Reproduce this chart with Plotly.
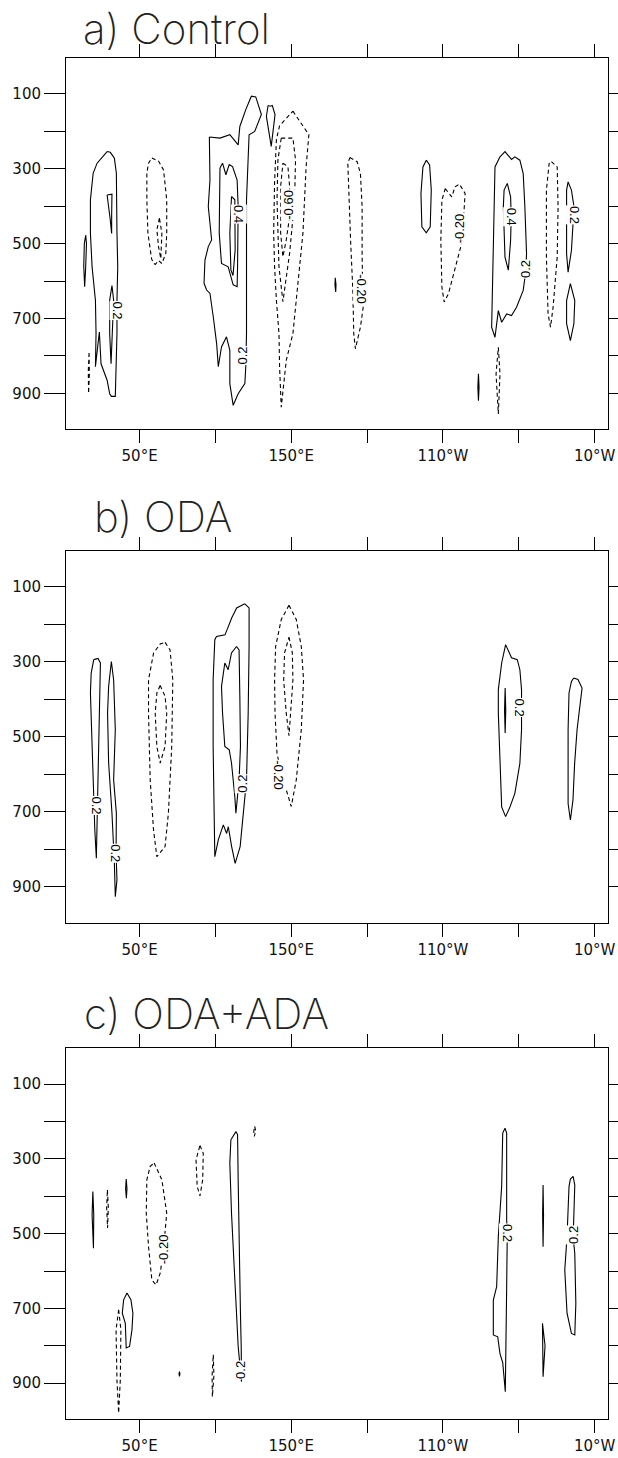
import plotly.graph_objects as go

# ---------------- axis ticks / titles ----------------
LON_TICKS = [50, 100, 150, 200, 250, 300, 350]
LON_LABELS = ["50°E", "", "150°E", "", "110°W", "", "10°W"]
P_TICKS = [100, 200, 300, 400, 500, 600, 700, 800, 900]
P_LABELS = ["100", "", "300", "", "500", "", "700", "", "900"]
PANEL_TITLES = ["a) Control", "b) ODA", "c) ODA+ADA"]

# ---------------- a) Control : contour loops (lon, hPa) ----------------
a_pos_1 = [(14.5, 477), (13.6, 500), (13.2, 560), (13.3, 610), (13.8, 615), (14.4, 570), (15.0, 500)]
a_pos_2 = [(28.6, 254), (22.0, 285), (19.4, 312), (17.6, 383), (17.6, 472), (18.7, 562), (20.9, 651),
           (21.3, 740), (20.9, 829), (23.5, 736), (24.6, 821), (26.8, 848), (28.6, 865), (30.3, 901),
           (31.4, 908), (34.0, 908), (34.7, 829), (35.1, 740), (35.1, 651), (35.6, 562), (35.1, 472),
           (35.1, 383), (34.7, 312), (33.4, 272), (30.7, 256)]
a_pos_3 = [(31.8, 612), (30.3, 651), (30.3, 740), (31.2, 821), (32.0, 740), (32.9, 651)]
a_pos_4 = [(28.6, 370), (31.8, 368), (31.6, 420), (31.6, 473), (30.5, 430)]
a_pos_5 = [(96.0, 215), (103.0, 218), (109.5, 209), (115.0, 236), (116.1, 187), (120.0, 142),
           (123.7, 106), (126.6, 108), (130.3, 155), (125.9, 200), (122.2, 209), (121.6, 294),
           (120.5, 383), (120.5, 472), (120.5, 562), (120.9, 651), (120.5, 740), (120.0, 829),
           (119.4, 874), (115.0, 901), (111.7, 932), (109.5, 874), (109.5, 785), (107.3, 749),
           (104.0, 776), (101.9, 829), (100.8, 767), (98.6, 696), (96.4, 633), (94.2, 624),
           (92.5, 606), (93.1, 544), (95.3, 508), (97.5, 490), (95.3, 401), (96.4, 330)]
a_pos_6 = [(103.0, 298), (104.7, 285), (106.9, 316), (109.1, 289), (111.3, 294), (114.3, 330),
           (115.0, 401), (115.0, 472), (114.6, 562), (114.3, 615), (111.7, 610), (108.4, 562),
           (104.0, 553), (102.5, 472), (103.0, 383)]
a_pos_7 = [(110.6, 374), (109.5, 472), (110.2, 570), (111.6, 585), (113.0, 517), (112.8, 383)]
a_pos_8 = [(134.7, 131), (136.2, 133), (137.5, 131), (139.3, 155), (136.8, 240), (133.6, 160)]
a_pos_9 = [(179.0, 591), (179.5, 610), (179.3, 629), (178.8, 610)]
a_pos_10 = [(239.0, 277), (241.2, 290), (242.3, 357), (241.6, 455), (239.0, 471), (236.1, 455),
            (235.5, 366), (236.8, 295)]
a_pos_11 = [(287.6, 268), (290.9, 254), (295.2, 275), (297.4, 268), (300.7, 277), (302.9, 313),
            (304.0, 402), (305.1, 527), (304.5, 577), (302.9, 625), (298.5, 670), (295.2, 692),
            (292.0, 688), (288.7, 710), (286.5, 679), (284.3, 750), (282.1, 723), (282.8, 580),
            (283.7, 402), (284.3, 295)]
a_pos_12 = [(292.4, 339), (294.6, 375), (295.0, 430), (294.6, 491), (293.1, 571), (290.9, 536),
            (289.8, 402), (290.3, 357)]
a_pos_13 = [(332.5, 335), (334.7, 357), (336.4, 402), (335.8, 450), (334.7, 518), (332.5, 576),
            (331.5, 527), (331.5, 357)]
a_pos_14 = [(334.0, 607), (336.9, 652), (336.3, 714), (334.0, 759), (331.5, 714), (331.5, 652)]
a_pos_15 = [(273.4, 848), (273.8, 884), (273.4, 920), (273.0, 884)]

a_neg_1 = [(16.7, 792), (16.2, 840), (16.4, 900), (16.9, 850)]
a_neg_2 = [(58.1, 271), (62.6, 280), (65.8, 303), (67.9, 383), (67.9, 472), (67.3, 526), (64.7, 553),
           (62.5, 545), (60.5, 555), (59.2, 553), (57.9, 540), (55.5, 472), (54.8, 383), (54.8, 312),
           (55.9, 285)]
a_neg_3 = [(63.1, 432), (61.4, 463), (62.5, 508), (64.0, 540), (64.7, 473)]
a_neg_4 = [(151.1, 146), (161.6, 209), (159.8, 294), (157.7, 472), (154.4, 606), (151.1, 740),
           (146.7, 812), (143.4, 937), (142.3, 829), (141.9, 740), (140.2, 651), (139.0, 562),
           (138.4, 472), (139.0, 338), (140.2, 222), (142.3, 185)]
a_neg_5 = [(143.4, 218), (151.1, 218), (152.8, 276), (152.2, 383), (148.9, 526), (144.5, 655),
           (141.9, 562), (140.6, 383), (141.2, 276)]
a_neg_6 = [(144.5, 285), (147.8, 294), (148.9, 347), (148.9, 428), (146.7, 490), (144.5, 535),
           (143.0, 472), (143.0, 347)]
a_neg_7 = [(188.6, 270), (193.4, 281), (195.6, 313), (196.7, 402), (196.7, 536), (197.4, 670),
           (195.6, 723), (192.3, 781), (191.2, 741), (190.6, 625), (189.1, 491), (187.9, 357),
           (187.3, 286)]
a_neg_8 = [(251.5, 353), (255.8, 375), (258.0, 348), (260.9, 341), (264.6, 366), (263.5, 438),
           (261.7, 509), (257.0, 580), (253.6, 634), (250.8, 656), (249.3, 616), (248.6, 491),
           (249.3, 384)]
a_neg_9 = [(321.5, 281), (325.3, 295), (325.9, 402), (325.3, 536), (322.6, 670), (320.9, 723),
           (319.3, 688), (318.2, 536), (318.2, 357), (320.0, 286)]
a_neg_10 = [(286.5, 777), (287.6, 848), (286.5, 955), (285.0, 848)]

a_labels = [("0.2", 35.6, 678, 90), ("0.4", 115.3, 420, 90), ("0.2", 117.8, 798, -90),
            ("-0.60", 148.5, 396, -90), ("-0.20", 195.8, 621, 90), ("-0.20", 261.0, 460, -90),
            ("0.4", 294.8, 428, 90), ("0.2", 304.3, 567, -90), ("0.2", 336.6, 424, 90)]

# ---------------- b) ODA ----------------
b_pos_1 = [(19.8, 294), (22.6, 291), (24.2, 303), (23.7, 392), (22.6, 570), (22.4, 660), (21.9, 749),
           (21.5, 824), (20.5, 749), (19.4, 615), (18.1, 481), (17.6, 383), (18.1, 330)]
b_pos_2 = [(31.4, 299), (32.9, 348), (34.0, 481), (32.9, 615), (34.7, 704), (34.5, 811), (35.1, 882),
           (34.0, 927), (33.4, 838), (31.8, 704), (29.6, 570), (28.9, 437), (29.6, 365)]
b_pos_3 = [(119.4, 145), (122.2, 156), (122.2, 259), (121.6, 437), (120.5, 615), (118.5, 704),
           (116.3, 793), (113.0, 838), (110.7, 793), (108.5, 740), (107.4, 758), (105.2, 735),
           (101.9, 775), (99.6, 820), (99.1, 704), (98.5, 526), (98.5, 348), (99.6, 241),
           (100.7, 232), (106.3, 228), (108.5, 206), (110.7, 183), (114.0, 156)]
b_pos_4 = [(113.9, 259), (115.6, 268), (116.1, 392), (116.5, 526), (115.6, 615), (114.3, 686),
           (113.5, 704), (112.8, 660), (110.6, 570), (109.1, 535), (106.2, 526), (104.7, 437),
           (104.0, 366), (106.2, 303), (108.4, 321), (110.6, 276)]
b_pos_5 = [(291.3, 254), (295.2, 289), (299.0, 294), (300.7, 321), (301.8, 374), (302.0, 423),
           (301.8, 481), (300.7, 571), (297.4, 651), (294.2, 687), (291.3, 713), (288.7, 687),
           (287.6, 571), (286.5, 437), (286.5, 374), (288.7, 303)]
b_pos_6 = [(291.0, 370), (291.4, 430), (291.0, 490), (290.6, 430)]
b_pos_7 = [(336.2, 343), (339.0, 347), (341.7, 370), (340.6, 410), (338.4, 481), (336.8, 571),
           (335.7, 669), (334.0, 722), (332.5, 678), (332.5, 481), (333.1, 383), (334.7, 352)]

b_neg_1 = [(66.8, 248), (70.1, 268), (71.9, 348), (71.2, 526), (69.0, 704), (66.8, 793), (61.4, 820),
           (59.2, 749), (57.0, 615), (55.9, 437), (55.9, 348), (59.2, 277), (63.6, 252)]
b_neg_2 = [(63.6, 363), (66.8, 392), (67.9, 437), (66.8, 526), (63.6, 570), (61.4, 526), (60.3, 437),
           (61.4, 383)]
b_neg_3 = [(148.5, 149), (153.3, 187), (156.6, 259), (158.1, 348), (156.6, 481), (153.3, 615),
           (150.0, 686), (146.7, 642), (143.4, 597), (140.6, 544), (139.3, 437), (139.0, 348),
           (139.7, 259), (143.4, 187)]
b_neg_4 = [(148.5, 234), (150.7, 276), (151.1, 348), (149.6, 437), (148.5, 497), (146.7, 437),
           (145.0, 348), (145.6, 276)]

b_labels = [("0.2", 21.0, 682, 90), ("0.2", 34.5, 811, 90), ("0.2", 117.8, 624, -90),
            ("-0.20", 141.8, 602, 90), ("0.2", 300.4, 423, 90)]

# ---------------- c) ODA+ADA ----------------
c_pos_1 = [(19.2, 387), (19.8, 450), (19.6, 539), (18.7, 450)]
c_pos_2 = [(41.2, 354), (41.7, 380), (41.3, 405), (40.8, 380)]
c_pos_3 = [(41.7, 659), (44.3, 677), (45.6, 713), (45.0, 757), (43.4, 802), (41.2, 806), (40.6, 740),
           (38.6, 713), (39.5, 677)]
c_pos_4 = [(76.3, 869), (76.6, 875), (76.3, 882), (76.0, 875)]
c_pos_5 = [(113.5, 227), (114.6, 235), (115.0, 356), (115.6, 534), (116.5, 713), (117.0, 802),
           (116.9, 864), (117.2, 896), (115.0, 802), (112.8, 624), (110.6, 445), (109.5, 311),
           (110.2, 249)]
c_pos_6 = [(290.9, 218), (292.0, 231), (292.0, 463), (292.4, 499), (292.0, 642), (291.5, 821),
           (291.1, 923), (289.4, 845), (287.6, 821), (286.1, 776), (283.2, 771), (283.2, 678),
           (285.4, 642), (286.5, 508), (288.7, 374), (289.4, 231)]
c_pos_7 = [(316.0, 370), (316.3, 450), (316.0, 535), (315.7, 450)]
c_pos_8 = [(315.6, 740), (317.3, 800), (316.0, 883), (315.6, 800)]
c_pos_9 = [(335.8, 347), (336.9, 370), (336.2, 463), (335.8, 508), (336.9, 553), (337.6, 687),
           (336.9, 771), (334.7, 767), (331.8, 713), (330.3, 597), (331.8, 508), (333.1, 374),
           (334.0, 354)]

c_neg_1 = [(28.8, 383), (29.4, 430), (28.9, 485), (28.3, 430)]
c_neg_2 = [(59.6, 311), (64.7, 356), (67.9, 445), (66.5, 500), (65.8, 543), (63.6, 606), (60.9, 637),
           (58.1, 624), (55.9, 534), (54.4, 445), (54.8, 356), (57.0, 320)]
c_neg_3 = [(36.2, 704), (37.7, 757), (37.3, 891), (36.2, 980), (35.1, 891), (34.5, 757)]
c_neg_4 = [(89.8, 264), (92.0, 285), (91.6, 356), (89.8, 399), (88.0, 374), (87.2, 302)]
c_neg_5 = [(98.6, 824), (99.0, 880), (98.0, 936), (97.8, 880)]
c_neg_6 = [(125.9, 213), (126.6, 226), (125.6, 240), (125.3, 226)]

c_labels = [("-0.20", 65.8, 543, -90), ("0.2", 116.4, 864, -90), ("0.2", 292.4, 499, 90),
            ("0.2", 335.6, 504, -90)]

panels = [
    ([a_pos_1, a_pos_2, a_pos_3, a_pos_4, a_pos_5, a_pos_6, a_pos_7, a_pos_8, a_pos_9, a_pos_10,
      a_pos_11, a_pos_12, a_pos_13, a_pos_14, a_pos_15],
     [a_neg_1, a_neg_2, a_neg_3, a_neg_4, a_neg_5, a_neg_6, a_neg_7, a_neg_8, a_neg_9, a_neg_10],
     a_labels),
    ([b_pos_1, b_pos_2, b_pos_3, b_pos_4, b_pos_5, b_pos_6, b_pos_7],
     [b_neg_1, b_neg_2, b_neg_3, b_neg_4],
     b_labels),
    ([c_pos_1, c_pos_2, c_pos_3, c_pos_4, c_pos_5, c_pos_6, c_pos_7, c_pos_8, c_pos_9],
     [c_neg_1, c_neg_2, c_neg_3, c_neg_4, c_neg_5, c_neg_6],
     c_labels),
]

# ---------------- figure ----------------
W, H = 618, 1458
ML, MR, MT, MB = 66, 10, 58, 39
domains = [[0.7272, 1.0], [0.3647, 0.6378], [0.0, 0.2724]]
title_pos = [(0.027, 1.080), (0.048, 1.092), (0.030, 1.095)]

fig = go.Figure()


def loops_xy(loops):
    xs, ys = [], []
    for loop in loops:
        pts = loop + [loop[0]]
        xs += [pt[0] for pt in pts] + [None]
        ys += [pt[1] for pt in pts] + [None]
    return xs, ys


annotations = []
for i, (pos, neg, labels) in enumerate(panels):
    sfx = "" if i == 0 else str(i + 1)
    xa, ya = "x" + sfx, "y" + sfx
    xs, ys = loops_xy(pos)
    fig.add_trace(go.Scatter(x=xs, y=ys, mode="lines", xaxis=xa, yaxis=ya,
                             line=dict(color="black", width=1.1), hoverinfo="skip",
                             showlegend=False))
    xs, ys = loops_xy(neg)
    fig.add_trace(go.Scatter(x=xs, y=ys, mode="lines", xaxis=xa, yaxis=ya,
                             line=dict(color="black", width=1.1, dash="4px,3px"),
                             hoverinfo="skip", showlegend=False))
    for txt, lon, p, ang in labels:
        annotations.append(dict(x=lon, y=p, xref=xa, yref=ya, text=txt, showarrow=False,
                                textangle=ang, bgcolor="white", borderpad=0,
                                font=dict(family="Liberation Sans", size=13, color="black")))
    tx, ty = title_pos[i]
    annotations.append(dict(x=tx, y=ty, xref=xa + " domain", yref=ya + " domain",
                            text=PANEL_TITLES[i], showarrow=False, xanchor="left",
                            yanchor="middle",
                            font=dict(family="Inter", size=42, color="#222", weight=200)))

    axis_common = dict(showline=True, linecolor="black", linewidth=1, mirror="ticks",
                       ticks="outside", tickcolor="black", tickwidth=1, showgrid=False,
                       zeroline=False, automargin=False,
                       tickfont=dict(family="DejaVu Sans", size=15, color="#111"))
    fig.update_layout(**{
        ("xaxis" + sfx): dict(axis_common, range=[1.5, 358.8], tickvals=LON_TICKS,
                              ticktext=LON_LABELS, ticklen=13, anchor=ya),
        ("yaxis" + sfx): dict(axis_common, range=[996, 4], tickvals=P_TICKS,
                              ticktext=P_LABELS, ticklen=21, domain=domains[i], anchor=xa),
    })

fig.update_layout(width=W, height=H, margin=dict(l=ML, r=MR, t=MT, b=MB),
                  paper_bgcolor="white", plot_bgcolor="white", annotations=annotations)

fig.write_html("out.html")
